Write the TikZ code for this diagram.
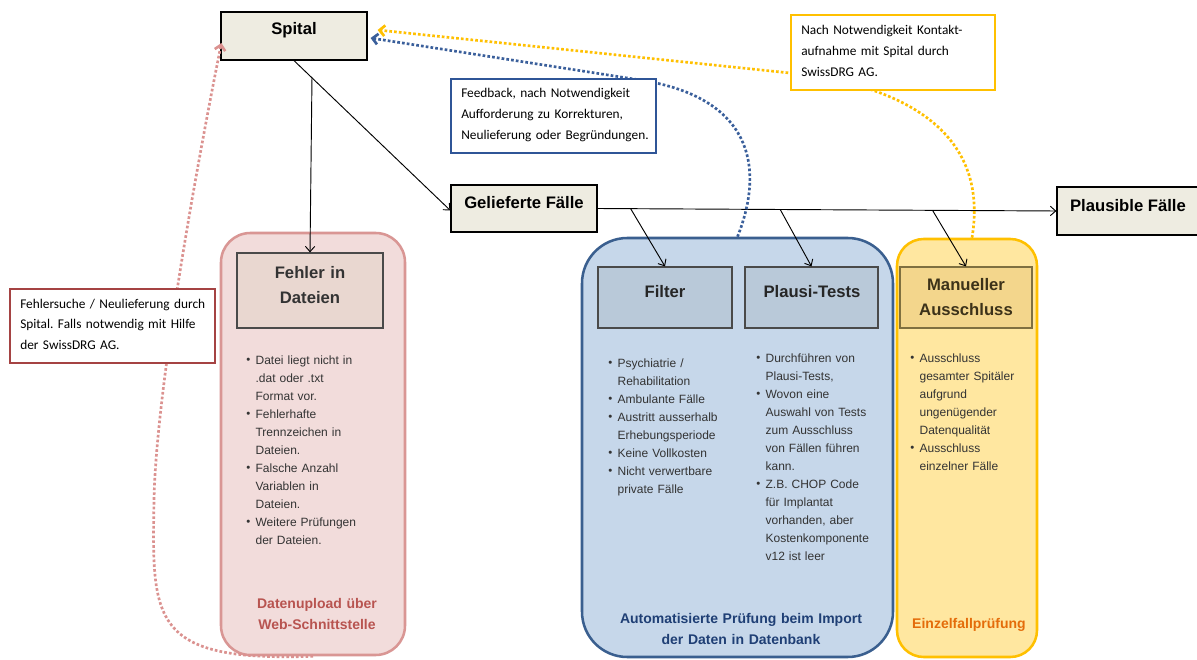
\documentclass[tikz,border=0pt]{standalone}
\usepackage{fontspec}
\setmainfont{Liberation Sans}
\newfontfamily\calibrifont{Carlito}
\usetikzlibrary{arrows.meta,fit,calc}
\definecolor{beige}{HTML}{EEECE1}
\definecolor{pinkfill}{HTML}{F2DCDB}
\definecolor{pinkline}{HTML}{D99694}
\definecolor{fehlerfill}{HTML}{E9D7D0}
\definecolor{bluefill}{HTML}{C6D7EA}
\definecolor{blueline}{HTML}{3A5F8F}
\definecolor{filterfill}{HTML}{B9C9D9}
\definecolor{yelfill}{HTML}{FFE7A0}
\definecolor{yelline}{HTML}{FFC000}
\definecolor{manfill}{HTML}{F3D68C}
\definecolor{manline}{HTML}{7F7040}
\definecolor{boxline}{HTML}{4A4A4A}
\definecolor{listgrey}{HTML}{333333}
\definecolor{pinklabel}{HTML}{B85450}
\definecolor{bluelabel}{HTML}{1F3F75}
\definecolor{orangelabel}{HTML}{E46C0A}
\definecolor{pinkdot}{HTML}{DB9290}
\definecolor{bluedot}{HTML}{3A5F9B}
\definecolor{redline}{HTML}{A54343}
\definecolor{fbline}{HTML}{2F5597}
\newcommand{\bul}{\makebox[7pt][l]{\raisebox{0.1ex}{\scalebox{0.95}{\textbullet}}}}
\newcommand{\ind}{\hspace*{7pt}}
\frenchspacing
\begin{document}
\begin{tikzpicture}[x=0.75pt,y=-0.75pt,
  region/.style={draw, line width=1.9pt, inner sep=0pt},
  box/.style={draw=boxline, line width=0.9pt, inner sep=0pt},
  callout/.style={draw, fill=white, line width=1pt, inner sep=0pt},
  title/.style={font=\fontsize{12.5}{18.75}\selectfont\bfseries, inner sep=0pt, anchor=base, align=center},
  bottomlabel/.style={font=\fontsize{10.5}{16}\selectfont\bfseries, inner sep=0pt, anchor=base, align=center, text width=220pt},
  list/.style={font=\fontsize{9}{13.5}\selectfont, text=listgrey, inner sep=0pt, anchor=base west, text width=140pt, align=left},
  note/.style={font=\calibrifont\frenchspacing\fontsize{10}{15.4}\selectfont, inner sep=0pt, anchor=base west, text width=200pt, align=left},
  arr/.style={-{Straight Barb[length=4pt,width=7pt]}, line width=0.7pt, black},
  dots/.style={line width=2pt, dash pattern=on 2pt off 1.6pt, -{Straight Barb[length=4pt,width=8pt]}}
]
\useasboundingbox (0,0) rectangle (1197,660);
\fill[white] (0,0) rectangle (1197,660);

% regions
\node[region, draw=pinkline, fill=pinkfill, rounded corners=22pt, fit={(221,233) (405,655)}] (pink) {};
\node[region, draw=blueline, fill=bluefill, rounded corners=34pt, fit={(582,238) (893,657)}] (blue) {};
\node[region, draw=yelline, fill=yelfill, rounded corners=20pt, fit={(897,239) (1037,657)}] (yellow) {};

% boxes
\node[box, draw=black, fill=beige, fit={(221,12) (367,60)}] (spital) {};
\node[box, draw=black, fill=beige, fit={(451,185) (597,232)}] (gel) {};
\node[box, draw=black, fill=beige, fit={(1057,187) (1200,235)}] (plaus) {};
\node[box, fill=fehlerfill, fit={(237,253) (383,328)}] (fehler) {};
\node[box, fill=filterfill, fit={(598,267) (732,328)}] (filter) {};
\node[box, fill=filterfill, fit={(745,267) (878,328)}] (plausi) {};
\node[box, draw=manline, fill=manfill, fit={(900,267) (1032,328)}] (manuell) {};

% titles
\node[title] (tspital) at (294,35) {Spital};
\node[title] (tgel) at (524,208) {Gelieferte Fälle};
\node[title] (tplaus) at (1128,211) {Plausible Fälle};
\node[title, text=listgrey, text width=100pt] (tfehler) at (310,278) {Fehler in\\Dateien};
\node[title, text=black!85] (tfilter) at (665,297) {Filter};
\node[title, text=black!85] (tplausi) at (812,297) {Plausi-Tests};
\node[title, text={rgb,255:red,60;green,50;blue,25}, text width=100pt] (tmanuell) at (966,290) {Manueller\\Ausschluss};

% lists
\node[list] (lfehler) at (246,364) {\bul Datei liegt nicht in\\\ind .dat oder .txt\\\ind Format vor.\\\bul Fehlerhafte\\\ind Trennzeichen in\\\ind Dateien.\\\bul Falsche Anzahl\\\ind Variablen in\\\ind Dateien.\\\bul Weitere Prüfungen\\\ind der Dateien.};
\node[list] (lfilter) at (608,367) {\bul Psychiatrie /\\\ind Rehabilitation\\\bul Ambulante Fälle\\\bul Austritt ausserhalb\\\ind Erhebungsperiode\\\bul Keine Vollkosten\\\bul Nicht verwertbare\\\ind private Fälle};
\node[list] (lplausi) at (756,362) {\bul Durchführen von\\\ind Plausi-Tests,\\\bul Wovon eine\\\ind Auswahl von Tests\\\ind zum Ausschluss\\\ind von Fällen führen\\\ind kann.\\\bul Z.B. CHOP Code\\\ind für Implantat\\\ind vorhanden, aber\\\ind Kostenkomponente\\\ind v12 ist leer};
\node[list] (lyellow) at (910,362) {\bul Ausschluss\\\ind gesamter Spitäler\\\ind aufgrund\\\ind ungenügender\\\ind Datenqualität\\\bul Ausschluss\\\ind einzelner Fälle};

% bottom labels
\node[bottomlabel, text=pinklabel] (lbpink) at (317,608) {Datenupload über\\Web-Schnittstelle};
\node[bottomlabel, text=bluelabel] (lbblue) at (741,623) {Automatisierte Prüfung beim Import\\der Daten in Datenbank};
\node[bottomlabel, text=orangelabel] (lbyellow) at (969,628) {Einzelfallprüfung};

% black connectors
\coordinate (branch) at ($(spital.south)!0.115!(gel.west)$);
\coordinate (b1) at ($(gel.east)!0.072!(plaus.west)$);
\coordinate (b2) at ($(gel.east)!0.398!(plaus.west)$);
\coordinate (b3) at ($(gel.east)!0.730!(plaus.west)$);
\draw[arr] (spital.south) -- ($(gel.west)+(0,2)$);
\draw[arr] (branch) -- (fehler.north);
\draw[arr] (gel.east) -- (plaus.west);
\draw[arr] (b1) -- (filter.north);
\draw[arr] (b2) -- (plausi.north);
\draw[arr] (b3) -- (manuell.north);

% dotted feedback connectors
\draw[dots, pinkdot] (pink.south) .. controls (150,662) and (152,620) .. (154,500) .. controls (156,400) and (190,200) .. ($(spital.west)+(1,7)$);
\draw[dots, bluedot] (blue.north) .. controls (766,165) and (750,97) .. (640,80) -- ($(spital.east)+(3,2)$);
\draw[dots, yelline] ($(yellow.north)+(5,0)$) .. controls (990,130) and (900,84.5) .. (790,73) -- ($(spital.east)+(10,-6)$);

% callouts
\node[callout, draw=redline, fit={(10,289) (215,363)}] (cfehler) {};
\node[note] (nfehler) at (20,308) {Fehlersuche / Neulieferung durch\\Spital. Falls notwendig mit Hilfe\\der SwissDRG AG.};
\node[callout, draw=fbline, fit={(451,79) (656,153)}] (cfeed) {};
\node[note] (nfeed) at (461,98) {Feedback, nach Notwendigkeit\\Aufforderung zu Korrekturen,\\Neulieferung oder Begründungen.};
\node[callout, draw=yelline, fit={(791,15) (995,90)}] (cnach) {};
\node[note] (nnach) at (801,35) {Nach Notwendigkeit Kontakt-\\aufnahme mit Spital durch\\SwissDRG AG.};
\end{tikzpicture}
\end{document}
